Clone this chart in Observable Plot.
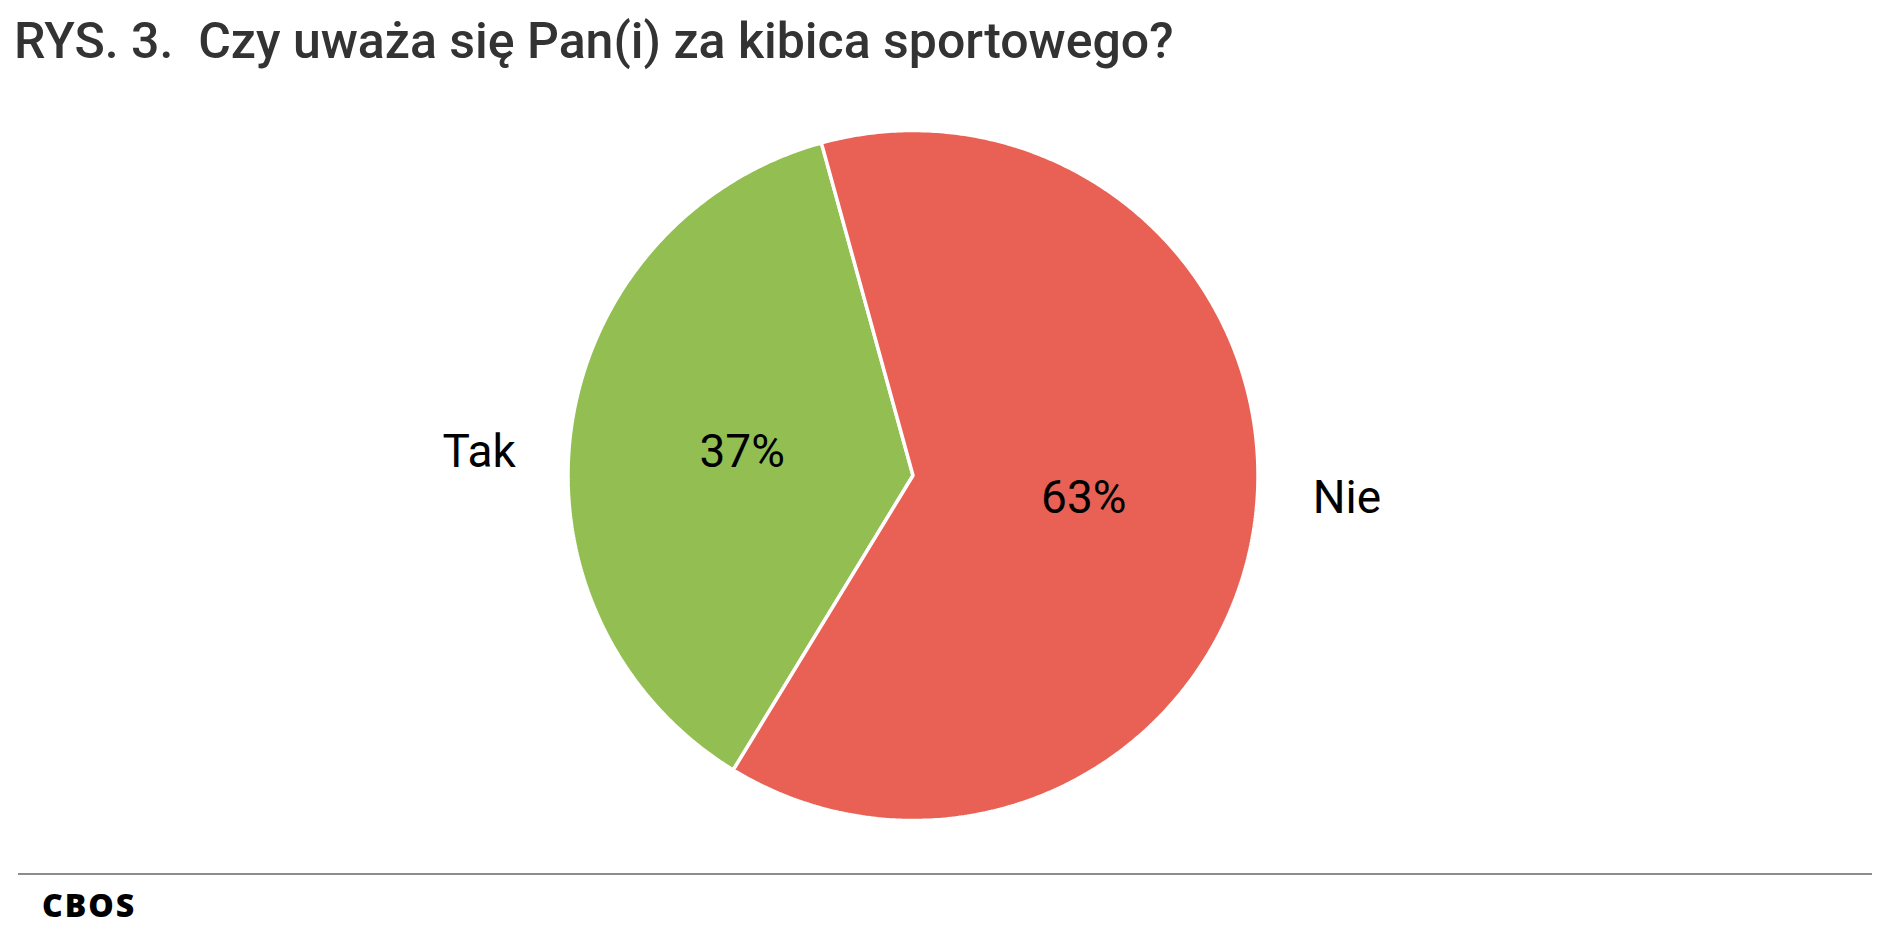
<!DOCTYPE html>
<html>
<head>
<meta charset="utf-8">
<script src="https://cdn.jsdelivr.net/npm/d3@7"></script>
<script src="https://cdn.jsdelivr.net/npm/@observablehq/plot@0.6"></script>
<style>
  html, body { margin: 0; padding: 0; background: #fff; }
  #page { position: relative; width: 1891px; height: 937px; overflow: hidden; }
  #title { position: absolute; left: 14px; top: 1px; height: 80px; line-height: 80px;
           font-family: Roboto, sans-serif; font-weight: 500; font-size: 50px; color: #333; white-space: nowrap; }
  #chart { position: absolute; left: 0; top: 80px; }
  #rule { position: absolute; left: 18px; width: 1854px; top: 873px; height: 2px; background: #8c8c8c; }
  #source { position: absolute; left: 42px; top: 883px; font-family: "Open Sans", sans-serif; font-weight: 800;
            font-size: 32px; color: #000; letter-spacing: 2px; }
</style>
</head>
<body>
<div id="page">
  <div id="title">RYS. 3.&nbsp; Czy uważa się Pan(i) za kibica sportowego?</div>
  <div id="chart"></div>
  <div id="rule"></div>
  <div id="source">CBOS</div>
</div>
<script>
const categories = ["Tak", "Nie"];
const values = [37, 63];
const colors = ["#93BE52", "#E86154"];
const valueLabels = ["37%", "63%"];

const startDeg = 211.4;
const pie = d3.pie().sort(null).value(d => d.value)
  .startAngle(startDeg * Math.PI / 180)
  .endAngle(startDeg * Math.PI / 180 + 2 * Math.PI);
const arcs = pie(categories.map((c, i) => ({category: c, value: values[i], label: valueLabels[i]})));

// wedge outlines (geometry of each slice: centre + arc)
const wedgePts = [];
for (const a of arcs) {
  wedgePts.push({category: a.data.category, x: 0, y: 0});
  const n = Math.max(2, Math.ceil((a.endAngle - a.startAngle) / (Math.PI / 360)));
  for (let k = 0; k <= n; k++) {
    const t = a.startAngle + (a.endAngle - a.startAngle) * k / n;
    wedgePts.push({category: a.data.category, x: Math.sin(t), y: Math.cos(t)});
  }
}
const labelPts = arcs.map(a => {
  const m = (a.startAngle + a.endAngle) / 2;
  return {category: a.data.category, label: a.data.label, m};
});

const W = 1891, H = 780, R = 345, cx = 912.5, cy = 395;
const plot = Plot.plot({
  width: W, height: H,
  marginLeft: cx - R, marginRight: W - cx - R,
  marginTop: cy - R, marginBottom: H - cy - R,
  x: {domain: [-1, 1], axis: null},
  y: {domain: [-1, 1], axis: null},
  color: {domain: categories, range: colors},
  style: {background: "transparent", overflow: "visible"},
  marks: [
    Plot.line(wedgePts, {x: "x", y: "y", z: "category", fill: "category", stroke: "white",
      strokeWidth: 3.5, curve: "linear-closed", strokeLinejoin: "miter"}),
    Plot.text(labelPts, {x: d => 0.5 * Math.sin(d.m), y: d => 0.48 * Math.cos(d.m), text: "label",
      fontSize: 46, fontFamily: "Roboto", fill: "black"}),
    Plot.text(labelPts, {x: d => 1.27 * Math.sin(d.m), y: d => 0.48 * Math.cos(d.m), text: "category",
      fontSize: 46, fontFamily: "Roboto", fill: "black"})
  ]
});
document.getElementById("chart").appendChild(plot);
</script>
</body>
</html>
